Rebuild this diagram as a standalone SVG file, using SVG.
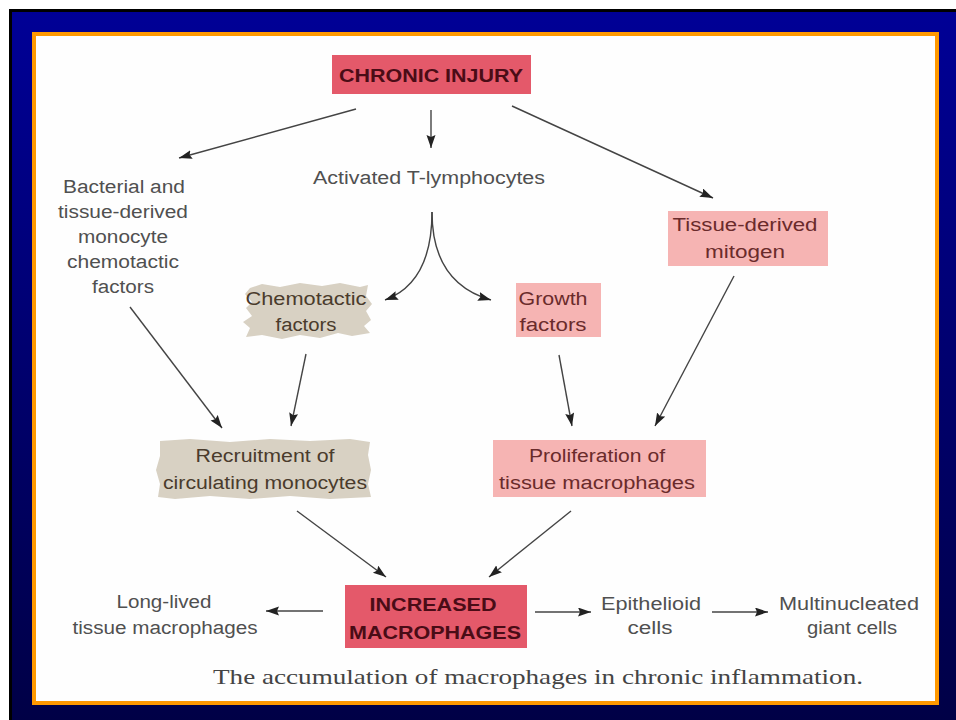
<svg xmlns="http://www.w3.org/2000/svg" width="956" height="720" viewBox="0 0 956 720">
<defs>
<linearGradient id="bg" x1="0" y1="0" x2="0" y2="1">
<stop offset="0" stop-color="#000096"/>
<stop offset="1" stop-color="#000046"/>
</linearGradient>
<marker id="ah" markerUnits="userSpaceOnUse" markerWidth="14" markerHeight="10" refX="13" refY="4.5" orient="auto">
<path d="M0,0 L13,4.5 L0,9 L2,4.5 z" fill="#222"/>
</marker>
<style>
.t{font-family:"Liberation Sans",Arial,sans-serif;font-size:18px;fill:#505050;text-anchor:middle}
.tb{font-family:"Liberation Sans",Arial,sans-serif;font-size:18px;fill:#6a2b2b;text-anchor:middle}
.tg{font-family:"Liberation Sans",Arial,sans-serif;font-size:18px;fill:#4a3b2c;text-anchor:middle}
.tr{font-family:"Liberation Sans",Arial,sans-serif;font-size:19px;font-weight:bold;fill:#4a0c16;text-anchor:middle}
.cap{font-family:"Liberation Serif","Times New Roman",serif;font-size:21px;fill:#444;text-anchor:middle}
.red{fill:#e4596a}
.pink{fill:#f6b4b3}
.beige{fill:#d8d1c3}
.c{fill:none;stroke:#444;stroke-width:1.4;marker-end:url(#ah)}
</style>
</defs>
<rect x="0" y="0" width="956" height="720" fill="#ffffff"/>
<rect x="9" y="9" width="947" height="711" fill="#000"/>
<rect x="12" y="12" width="944" height="708" fill="url(#bg)"/>
<rect x="34" y="34" width="903" height="669" fill="#fefefe" stroke="#ff9900" stroke-width="4"/>

<g id="chronic-injury">
<rect class="red" x="332" y="55" width="199" height="39"/>
<text class="tr" x="431" y="82" textLength="184" lengthAdjust="spacingAndGlyphs">CHRONIC INJURY</text>
</g>

<g id="bacterial-factors">
<text class="t" x="124" y="193" textLength="122" lengthAdjust="spacingAndGlyphs">Bacterial and</text>
<text class="t" x="123" y="218" textLength="130" lengthAdjust="spacingAndGlyphs">tissue-derived</text>
<text class="t" x="123" y="243" textLength="90" lengthAdjust="spacingAndGlyphs">monocyte</text>
<text class="t" x="123" y="268" textLength="112" lengthAdjust="spacingAndGlyphs">chemotactic</text>
<text class="t" x="123" y="293" textLength="62" lengthAdjust="spacingAndGlyphs">factors</text>
</g>

<g id="t-lymphocytes">
<text class="t" x="429" y="184" textLength="232" lengthAdjust="spacingAndGlyphs">Activated T-lymphocytes</text>
</g>

<g id="tissue-mitogen">
<rect class="pink" x="668" y="211" width="160" height="55"/>
<text class="tb" x="745" y="231" textLength="145" lengthAdjust="spacingAndGlyphs">Tissue-derived</text>
<text class="tb" x="745" y="258" textLength="80" lengthAdjust="spacingAndGlyphs">mitogen</text>
</g>

<g id="chemotactic-factors">
<path class="beige" d="M250,288 L262,284 L280,287 L300,283 L322,286 L340,283 L360,287 L368,285 L366,296 L372,304 L366,311 L371,320 L364,326 L370,333 L352,336 L338,333 L320,338 L300,335 L282,339 L262,335 L246,337 L250,328 L243,322 L252,316 L246,308 L252,302 L245,294 z"/>
<text class="tg" x="306" y="305" textLength="121" lengthAdjust="spacingAndGlyphs">Chemotactic</text>
<text class="tg" x="306" y="331" textLength="61" lengthAdjust="spacingAndGlyphs">factors</text>
</g>

<g id="growth-factors">
<rect class="pink" x="516" y="283" width="85" height="54"/>
<text class="tb" x="553" y="305" textLength="69" lengthAdjust="spacingAndGlyphs">Growth</text>
<text class="tb" x="553" y="331" textLength="67" lengthAdjust="spacingAndGlyphs">factors</text>
</g>

<g id="recruitment">
<path class="beige" d="M160,441 L190,439 L230,442 L270,439 L310,441 L350,439 L370,442 L368,455 L371,470 L368,484 L371,497 L330,499 L290,496 L250,499 L210,496 L175,499 L158,497 L160,484 L156,470 L160,456 z"/>
<text class="tg" x="265" y="462" textLength="139" lengthAdjust="spacingAndGlyphs">Recruitment of</text>
<text class="tg" x="265" y="489" textLength="204" lengthAdjust="spacingAndGlyphs">circulating monocytes</text>
</g>

<g id="proliferation">
<rect class="pink" x="493" y="440" width="213" height="57"/>
<text class="tb" x="597" y="462" textLength="136" lengthAdjust="spacingAndGlyphs">Proliferation of</text>
<text class="tb" x="597" y="489" textLength="196" lengthAdjust="spacingAndGlyphs">tissue macrophages</text>
</g>

<g id="increased-macrophages">
<rect class="red" x="345" y="585" width="182" height="63"/>
<text class="tr" x="433" y="611" textLength="127" lengthAdjust="spacingAndGlyphs">INCREASED</text>
<text class="tr" x="435" y="639" textLength="172" lengthAdjust="spacingAndGlyphs">MACROPHAGES</text>
</g>

<g id="long-lived">
<text class="t" x="164" y="608" textLength="95" lengthAdjust="spacingAndGlyphs">Long-lived</text>
<text class="t" x="165" y="634" textLength="185" lengthAdjust="spacingAndGlyphs">tissue macrophages</text>
</g>

<g id="epithelioid">
<text class="t" x="651" y="610" textLength="100" lengthAdjust="spacingAndGlyphs">Epithelioid</text>
<text class="t" x="650" y="634" textLength="45" lengthAdjust="spacingAndGlyphs">cells</text>
</g>

<g id="giant-cells">
<text class="t" x="849" y="610" textLength="140" lengthAdjust="spacingAndGlyphs">Multinucleated</text>
<text class="t" x="852" y="634" textLength="90" lengthAdjust="spacingAndGlyphs">giant cells</text>
</g>

<g id="caption">
<text class="cap" x="538" y="684" textLength="650" lengthAdjust="spacingAndGlyphs">The accumulation of macrophages in chronic inflammation.</text>
</g>

<g id="connectors">
<line class="c" x1="356" y1="109" x2="179" y2="158"/>
<line class="c" x1="431" y1="110" x2="431" y2="148"/>
<line class="c" x1="512" y1="106" x2="713" y2="198"/>
<path class="c" d="M432,212 C432,265 412,290 385,300"/>
<path class="c" d="M432,212 C432,265 456,290 491,300"/>
<line class="c" x1="130" y1="307" x2="222" y2="428"/>
<line class="c" x1="306" y1="354" x2="291" y2="426"/>
<line class="c" x1="559" y1="355" x2="572" y2="426"/>
<line class="c" x1="734" y1="276" x2="655" y2="426"/>
<line class="c" x1="297" y1="511" x2="386" y2="577"/>
<line class="c" x1="571" y1="511" x2="489" y2="577"/>
<line class="c" x1="323" y1="611" x2="266" y2="611"/>
<line class="c" x1="535" y1="612" x2="591" y2="612"/>
<line class="c" x1="712" y1="612" x2="768" y2="612"/>
</g>
</svg>
